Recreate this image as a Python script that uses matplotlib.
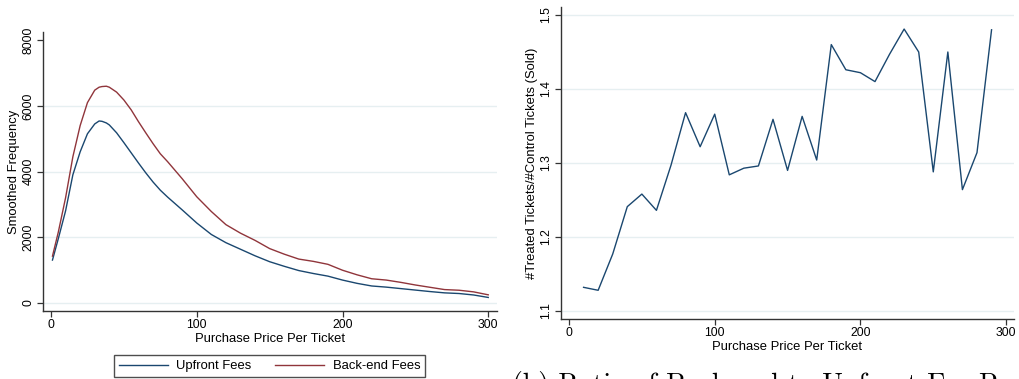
import matplotlib
matplotlib.use("Agg")
import matplotlib.pyplot as plt

plt.rcParams["font.family"] = ["Liberation Sans", "DejaVu Sans"]

# Smoothed purchase-frequency curves by fee type
price_grid = [1, 5, 10, 15, 20, 25, 30, 33, 35, 38, 40, 45, 50, 55, 60, 65, 70, 75, 80,
              90, 100, 110, 120, 130, 140, 150, 160, 170, 180, 190, 200, 210, 220,
              230, 240, 250, 260, 270, 280, 290, 300]
upfront_freq = [1300, 1950, 2800, 3900, 4600, 5150, 5450, 5540, 5530, 5480, 5420, 5180,
                4880, 4570, 4260, 3960, 3680, 3430, 3220, 2830, 2430, 2080, 1830, 1630,
                1430, 1250, 1110, 980, 890, 810, 690, 590, 510, 475, 430, 385, 340, 300,
                280, 235, 160]
backend_freq = [1420, 2150, 3200, 4450, 5400, 6100, 6480, 6570, 6590, 6600, 6570, 6420,
                6180, 5880, 5520, 5180, 4850, 4540, 4300, 3780, 3230, 2780, 2380, 2120,
                1900, 1650, 1480, 1330, 1260, 1170, 990, 850, 730, 690, 620, 540, 470,
                400, 380, 330, 240]

# Ratio of treated to control tickets sold, by price bin
ratio_price = [10, 20, 30, 40, 50, 60, 70, 80, 90, 100, 110, 120, 130, 140, 150, 160,
               170, 180, 190, 200, 210, 220, 230, 240, 250, 260, 270, 280, 290]
ratio_value = [1.132, 1.128, 1.177, 1.241, 1.258, 1.236, 1.297, 1.368, 1.322, 1.366,
               1.284, 1.293, 1.296, 1.359, 1.290, 1.363, 1.304, 1.460, 1.426, 1.422,
               1.410, 1.447, 1.481, 1.450, 1.288, 1.450, 1.264, 1.314, 1.480]

left_yticks = [0, 2000, 4000, 6000, 8000]
right_yticks = [1.1, 1.2, 1.3, 1.4, 1.5]
xticks = [0, 100, 200, 300]

NAVY = "#1a476f"
MAROON = "#90353b"
GRID = "#e6eff1"
AXIS = "#333333"

W, H = 1020, 379
fig = plt.figure(figsize=(W / 100, H / 100), dpi=100)


def frame(ax, yticks, grid_ticks):
    for s in ("top", "right"):
        ax.spines[s].set_visible(False)
    for s in ("left", "bottom"):
        ax.spines[s].set_color(AXIS)
        ax.spines[s].set_linewidth(1.0)
    ax.set_xticks(xticks)
    ax.set_yticks(yticks)
    ax.tick_params(axis="both", direction="out", length=4, width=0.9, color=AXIS,
                   labelsize=8.8, pad=2)
    for lab in ax.get_yticklabels():
        lab.set_rotation(90)
        lab.set_va("center")
    for g in grid_ticks:
        ax.axhline(g, color=GRID, lw=1.0, zorder=0)


# Left panel
ax1 = fig.add_axes([42.7 / W, 1 - 311 / H, (497 - 42.7) / W, (311 - 32.3) / H])
ax1.plot(price_grid, upfront_freq, color=NAVY, lw=1.0, label="Upfront Fees")
ax1.plot(price_grid, backend_freq, color=MAROON, lw=1.0, label="Back-end Fees")
ax1.set_xlim(-5.7, 306)
ax1.set_ylim(-253, 8244)
frame(ax1, left_yticks, [0, 2000, 4000, 6000])
ax1.set_xlabel("Purchase Price Per Ticket", fontsize=9.4, labelpad=1)
ax1.set_ylabel("Smoothed Frequency", fontsize=9.4, labelpad=2)
leg = ax1.legend(loc="center", bbox_to_anchor=((269.5 - 42.7) / (497 - 42.7), (311 - 366) / (311 - 32.3)),
                 ncol=2, fontsize=9.4, frameon=True, fancybox=False, handlelength=3.75,
                 handletextpad=0.65, columnspacing=1.8, borderpad=0.4, borderaxespad=0)
leg.get_frame().set_edgecolor("#222222")
leg.get_frame().set_linewidth(1.0)

# Right panel
ax2 = fig.add_axes([560.7 / W, 1 - 319 / H, (1014 - 560.7) / W, (319 - 6.7) / H])
ax2.plot(ratio_price, ratio_value, color=NAVY, lw=1.0)
ax2.set_xlim(-5.7, 305.4)
ax2.set_ylim(1.0892, 1.5112)
frame(ax2, right_yticks, right_yticks)
ax2.set_yticklabels([f"{v:.1f}" for v in right_yticks])
ax2.set_xlabel("Purchase Price Per Ticket", fontsize=9.4, labelpad=1)
ax2.set_ylabel("#Treated Tickets/#Control Tickets (Sold)", fontsize=9.4, labelpad=2)

fig.text(512 / W, 1 - 393 / H, "(b) Ratio of Back-end to Upfront Fee Purchases",
         family="cmr10", fontsize=20, ha="left", va="baseline")

fig.savefig("out.png", dpi=100)
